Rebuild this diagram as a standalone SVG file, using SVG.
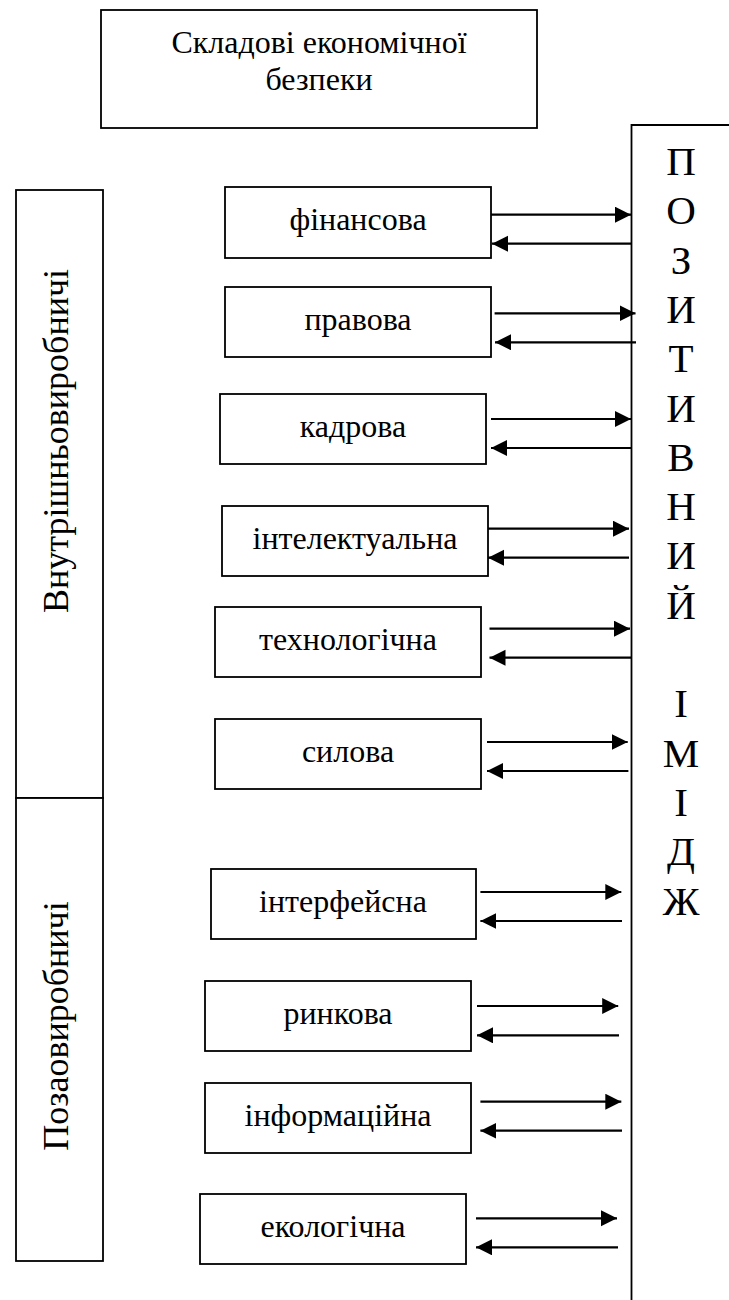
<svg xmlns="http://www.w3.org/2000/svg" width="729" height="1300" viewBox="0 0 729 1300">
<style>
.box{fill:#fff;stroke:#000;stroke-width:1.8}
.lbl{font-family:"Liberation Serif","DejaVu Serif",serif;font-size:32px;fill:#000;text-anchor:middle}
.side{font-family:"Liberation Serif","DejaVu Serif",serif;font-size:36px;fill:#000;text-anchor:middle}
.big{font-family:"Liberation Serif","DejaVu Serif",serif;font-size:41px;fill:#000;text-anchor:middle}
.ar{stroke:#000;stroke-width:2.2;fill:none;marker-end:url(#ah)}
.bar{stroke:#000;stroke-width:1.8;fill:none}
</style>
<defs>
<marker id="ah" markerUnits="userSpaceOnUse" markerWidth="18" markerHeight="18" refX="16" refY="8" orient="auto">
<path d="M0,0 L16,8 L0,16 Z" fill="#000"/>
</marker>
</defs>
<rect width="729" height="1300" fill="#fff"/>
<g id="title">
<rect class="box" x="101" y="10" width="436" height="118"/>
<text class="lbl" x="319" y="53">Складові економічної</text>
<text class="lbl" x="319" y="90">безпеки</text>
</g>
<g id="image">
<path class="bar" d="M631.5,1300 L631.5,125 L729,125"/>
<text class="big" x="681"><tspan x="681" y="175">П</tspan><tspan x="681" y="224.3">О</tspan><tspan x="681" y="273.6">З</tspan><tspan x="681" y="322.9">И</tspan><tspan x="681" y="372.2">Т</tspan><tspan x="681" y="421.5">И</tspan><tspan x="681" y="470.8">В</tspan><tspan x="681" y="520.1">Н</tspan><tspan x="681" y="569.4">И</tspan><tspan x="681" y="618.7">Й</tspan><tspan x="681" y="717.3">І</tspan><tspan x="681" y="766.6">М</tspan><tspan x="681" y="815.9">І</tspan><tspan x="681" y="865.2">Д</tspan><tspan x="681" y="914.5">Ж</tspan></text>
</g>
<g id="internal">
<rect class="box" x="16" y="190" width="87" height="608"/>
<text class="side" transform="translate(68,441) rotate(-90)" x="0" y="0">Внутрішньовиробничі</text>
</g>
<g id="external">
<rect class="box" x="16" y="798" width="87" height="463"/>
<text class="side" transform="translate(68,1026) rotate(-90)" x="0" y="0">Позаовиробничі</text>
</g>
<g id="n-fin"><rect class="box" x="225" y="187" width="266" height="71"/><text class="lbl" x="358" y="230">фінансова</text></g>
<g id="n-prav"><rect class="box" x="225" y="287" width="266" height="70"/><text class="lbl" x="358" y="330">правова</text></g>
<g id="n-kadr"><rect class="box" x="220" y="394" width="266" height="70"/><text class="lbl" x="353" y="437">кадрова</text></g>
<g id="n-int"><rect class="box" x="222" y="506" width="266" height="70"/><text class="lbl" x="355" y="549">інтелектуальна</text></g>
<g id="n-tech"><rect class="box" x="215" y="607" width="266" height="70"/><text class="lbl" x="348" y="650">технологічна</text></g>
<g id="n-sil"><rect class="box" x="215" y="719" width="266" height="70"/><text class="lbl" x="348" y="762">силова</text></g>
<g id="n-intf"><rect class="box" x="211" y="869" width="265" height="70"/><text class="lbl" x="343" y="912">інтерфейсна</text></g>
<g id="n-rynk"><rect class="box" x="205" y="981" width="266" height="70"/><text class="lbl" x="338" y="1024">ринкова</text></g>
<g id="n-inf"><rect class="box" x="205" y="1083" width="266" height="70"/><text class="lbl" x="338" y="1126">інформаційна</text></g>
<g id="n-eko"><rect class="box" x="200" y="1194" width="266" height="70"/><text class="lbl" x="333" y="1237">екологічна</text></g>
<g id="connectors">
<line class="ar" x1="491" y1="214.7" x2="631" y2="214.7"/>
<line class="ar" x1="632" y1="243.7" x2="492" y2="243.7"/>
<line class="ar" x1="494.6" y1="313.3" x2="635.5" y2="313.3"/>
<line class="ar" x1="636" y1="342.3" x2="495" y2="342.3"/>
<line class="ar" x1="491" y1="419" x2="631" y2="419"/>
<line class="ar" x1="632" y1="448" x2="491" y2="448"/>
<line class="ar" x1="488" y1="528.7" x2="629" y2="528.7"/>
<line class="ar" x1="629" y1="557.7" x2="488" y2="557.7"/>
<line class="ar" x1="489.5" y1="628.7" x2="630" y2="628.7"/>
<line class="ar" x1="631" y1="657.7" x2="489.5" y2="657.7"/>
<line class="ar" x1="487" y1="742" x2="627.7" y2="742"/>
<line class="ar" x1="628.4" y1="771" x2="487" y2="771"/>
<line class="ar" x1="480.4" y1="892" x2="621.3" y2="892"/>
<line class="ar" x1="622" y1="921" x2="480.4" y2="921"/>
<line class="ar" x1="477" y1="1006" x2="618.2" y2="1006"/>
<line class="ar" x1="619" y1="1035.3" x2="477" y2="1035.3"/>
<line class="ar" x1="480.4" y1="1101.7" x2="621.3" y2="1101.7"/>
<line class="ar" x1="622" y1="1130.7" x2="480.4" y2="1130.7"/>
<line class="ar" x1="476" y1="1218.3" x2="617" y2="1218.3"/>
<line class="ar" x1="618" y1="1247.3" x2="476" y2="1247.3"/>
</g>
</svg>
